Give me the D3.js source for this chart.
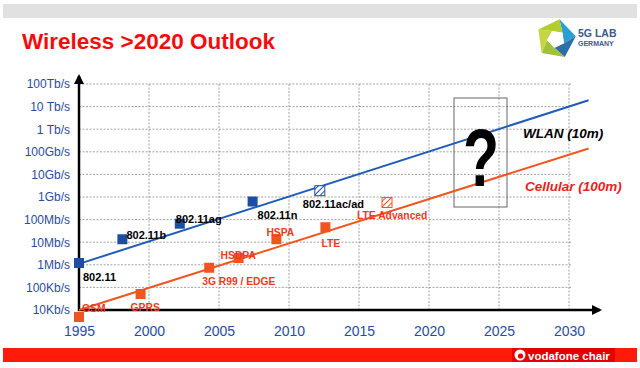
<!DOCTYPE html>
<html><head><meta charset="utf-8">
<script src="https://cdn.jsdelivr.net/npm/d3@7"></script>
<style>html,body{margin:0;padding:0;background:#fff;}svg{display:block;}</style>
</head><body>
<svg id="chart" width="640" height="368"></svg>
<script>
// ---------- data ----------
const yTickValues = [1e4, 1e5, 1e6, 1e7, 1e8, 1e9, 1e10, 1e11, 1e12, 1e13, 1e14];
const yTickLabels = ["10Kb/s","100Kb/s","1Mb/s","10Mb/s","100Mb/s","1Gb/s","10Gb/s","100Gb/s","1 Tb/s","10 Tb/s","100Tb/s"];
const xTickValues = [1995, 2000, 2005, 2010, 2015, 2020, 2025, 2030];

const wlanNames = ["802.11","802.11b","802.11ag","802.11n","802.11ac/ad"];
const wlanYears = [1995, 1998.1, 2002.2, 2007.4, 2012.2];
const wlanRates = [1.2e6, 13.5e6, 66e6, 630e6, 1.9e9];
const wlanProjected = [false, false, false, false, true];

const cellNames = ["GSM","GPRS","3G R99 / EDGE","HSDPA","HSPA","LTE","LTE Advanced"];
const cellYears = [1995, 1999.4, 2004.3, 2006.4, 2009.1, 2012.6, 2017];
const cellRates = [4.9e3, 51e3, 0.74e6, 2e6, 13.5e6, 46e6, 570e6];
const cellProjected = [false, false, false, false, false, false, true];

const wlanTrendYears = [1995, 2031.4];
const wlanTrendRates = [1.1e6, 1.9e13];
const cellTrendYears = [1995, 2031.4];
const cellTrendRates = [1e4, 1.4e11];

// ---------- layout ----------
const wlanLabelOffsets = [[4,14],[4,-4],[-4,-5],[5,14],[-17,13]];
const cellLabelOffsets = [[3,-9],[-10,13],[-7,14],[-18,-3],[-10,-7],[-4,16],[-30,13]];

const svg = d3.select("#chart");
const x = d3.scaleLinear().domain([1995, 2030]).range([79, 569]);
const y = d3.scaleLog().domain([1e4, 1e14]).range([310, 84]);

const BLUE = "#1b4ea3", BLUE_LINE = "#1f5cb8", ORANGE = "#f2541f", RED_TXT = "#ec3b22", TICK = "#2a4c9c";

// header bar
svg.append("rect").attr("x",3).attr("y",4).attr("width",634).attr("height",14).attr("fill","#e1e1e1");
svg.append("text").attr("x",22).attr("y",49).attr("font-family","Liberation Sans, Arial, sans-serif")
  .attr("font-weight","bold").attr("font-size",22.5).attr("fill","#f20d0d").text("Wireless >2020 Outlook");

// logo
(function(){
  const cx=556, cy=39, R=20, r=9;
  const ang = i => (-90 + 72*i + 10) * Math.PI/180;
  const P = (rad,i)=>[cx+rad*Math.cos(ang(i)), cy+rad*Math.sin(ang(i))];
  const cols = ["#2a9fd4","#2e6fa8","#9fc23a","#c4d645","#b3cc2f"];
  for(let i=0;i<5;i++){
    const a=P(R,i), b=P(R,i+1), c=P(r,i+1+0.5), d=P(r,i+0.5);
    svg.append("path").attr("d",`M${a}L${b}L${c}L${d}Z`).attr("fill",cols[i]);
  }
  const inner=[0,1,2,3,4].map(i=>P(r,i+0.5));
  svg.append("path").attr("d","M"+inner.join("L")+"Z").attr("fill","#fff");
  svg.append("text").attr("x",578).attr("y",37).attr("font-family","Liberation Sans, Arial, sans-serif")
    .attr("font-weight","bold").attr("font-size",10.5).attr("fill","#3d5a8c").text("5G LAB");
  svg.append("text").attr("x",578).attr("y",46).attr("font-family","Liberation Sans, Arial, sans-serif")
    .attr("font-weight","bold").attr("font-size",7).attr("fill","#3d5a8c").text("GERMANY");
})();

// grid
const grid = svg.append("g").attr("stroke","#8a8a8a").attr("stroke-width",0.8).attr("stroke-dasharray","2,1.5");
yTickValues.slice(1).forEach(v=>{
  grid.append("line").attr("x1",x(1995)).attr("x2",572).attr("y1",y(v)).attr("y2",y(v));
});
xTickValues.slice(1).forEach(v=>{
  grid.append("line").attr("x1",x(v)).attr("x2",x(v)).attr("y1",y(1e14)).attr("y2",y(1e4));
});

// axes (via d3 axes for labels)
const yAxis = d3.axisLeft(y).tickValues(yTickValues).tickFormat((d,i)=>yTickLabels[i]).tickSize(0).tickPadding(9);
const gy = svg.append("g").attr("transform",`translate(${x(1995)},0)`).call(yAxis);
gy.select(".domain").remove();
gy.selectAll("text").attr("font-family","Liberation Sans, Arial, sans-serif").attr("font-size",12).attr("fill",TICK);

const xAxis = d3.axisBottom(x).tickValues(xTickValues).tickFormat(d3.format("d")).tickSize(0).tickPadding(16);
const gx = svg.append("g").attr("transform",`translate(0,${y(1e4)})`).call(xAxis);
gx.select(".domain").remove();
gx.selectAll("text").attr("font-family","Liberation Sans, Arial, sans-serif").attr("font-size",14).attr("fill",TICK);

svg.append("defs").html(`
 <marker id="arr" viewBox="0 0 10 10" refX="8" refY="5" markerWidth="4" markerHeight="4" orient="auto">
   <path d="M0,0L10,5L0,10Z" fill="#000"/></marker>
 <pattern id="hatchB" patternUnits="userSpaceOnUse" width="4" height="4" patternTransform="rotate(45)">
   <rect width="4" height="4" fill="#fff"/><line x1="0" y1="0" x2="0" y2="4" stroke="${BLUE}" stroke-width="2"/></pattern>
 <pattern id="hatchO" patternUnits="userSpaceOnUse" width="4" height="4" patternTransform="rotate(45)">
   <rect width="4" height="4" fill="#fff"/><line x1="0" y1="0" x2="0" y2="4" stroke="${ORANGE}" stroke-width="2"/></pattern>
`);

svg.append("line").attr("x1",x(1995)).attr("x2",x(1995)).attr("y1",y(1e4)+1).attr("y2",76)
  .attr("stroke","#000").attr("stroke-width",2.5).attr("marker-end","url(#arr)");
svg.append("line").attr("x1",x(1995)-1).attr("x2",600).attr("y1",y(1e4)).attr("y2",y(1e4))
  .attr("stroke","#000").attr("stroke-width",2.5).attr("marker-end","url(#arr)");

// question box
svg.append("rect").attr("x",454).attr("y",98).attr("width",53).attr("height",109)
  .attr("fill","none").attr("stroke","#666").attr("stroke-width",1);

// trend lines
const line = d3.line().x(d=>x(d[0])).y(d=>y(d[1]));
svg.append("path").attr("d",line(d3.zip(wlanTrendYears,wlanTrendRates))).attr("stroke",BLUE_LINE).attr("stroke-width",2).attr("fill","none");
svg.append("path").attr("d",line(d3.zip(cellTrendYears,cellTrendRates))).attr("stroke",ORANGE).attr("stroke-width",2).attr("fill","none");

svg.append("text").attr("transform","translate(481,186) scale(0.72,1)").attr("text-anchor","middle")
  .attr("font-family","Liberation Sans, Arial, sans-serif").attr("font-weight","bold").attr("font-size",82).attr("fill","#000").text("?");

// markers
const S = 10;
function drawSeries(names, years, rates, proj, color, hatch, offs, txtColor){
  const g = svg.append("g");
  names.forEach((n,i)=>{
    const px=x(years[i]), py=y(rates[i]);
    g.append("rect").attr("x",px-S/2).attr("y",py-S/2).attr("width",S).attr("height",S)
      .attr("fill", proj[i] ? `url(#${hatch})` : color)
      .attr("stroke", proj[i] ? color : "none").attr("stroke-width",1);
  });
  names.forEach((n,i)=>{
    const px=x(years[i]), py=y(rates[i]);
    g.append("text").attr("x",px+offs[i][0]).attr("y",py+offs[i][1]).attr("dy","0.35em")
      .attr("font-family","Liberation Sans, Arial, sans-serif").attr("font-weight","bold")
      .attr("font-size", txtColor==="#000" ? 11 : 10.3).attr("fill",txtColor).text(n);
  });
}
drawSeries(wlanNames, wlanYears, wlanRates, wlanProjected, BLUE, "hatchB", wlanLabelOffsets, "#000");
drawSeries(cellNames, cellYears, cellRates, cellProjected, ORANGE, "hatchO", cellLabelOffsets, RED_TXT);

svg.append("text").attr("x",523).attr("y",138).attr("font-family","Liberation Sans, Arial, sans-serif")
  .attr("font-weight","bold").attr("font-style","italic").attr("font-size",13.5).attr("fill","#000").text("WLAN (10m)");
svg.append("text").attr("x",525).attr("y",191).attr("font-family","Liberation Sans, Arial, sans-serif")
  .attr("font-weight","bold").attr("font-style","italic").attr("font-size",13.5).attr("fill","#ee1c1c").text("Cellular (100m)");

// footer
svg.append("rect").attr("x",3).attr("y",348).attr("width",634).attr("height",14).attr("fill","#ff1a0a");
svg.append("rect").attr("x",512).attr("y",348).attr("width",103).attr("height",14).attr("fill","#e60000");
svg.append("circle").attr("cx",520).attr("cy",355).attr("r",5.5).attr("fill","#fff");
svg.append("circle").attr("cx",520.5).attr("cy",356).attr("r",2.6).attr("fill","#e60000");
svg.append("text").attr("x",528).attr("y",359.5).attr("font-family","Liberation Sans, Arial, sans-serif")
  .attr("font-weight","bold").attr("font-size",11.5).attr("fill","#fff").text("vodafone chair");
</script>
</body></html>
